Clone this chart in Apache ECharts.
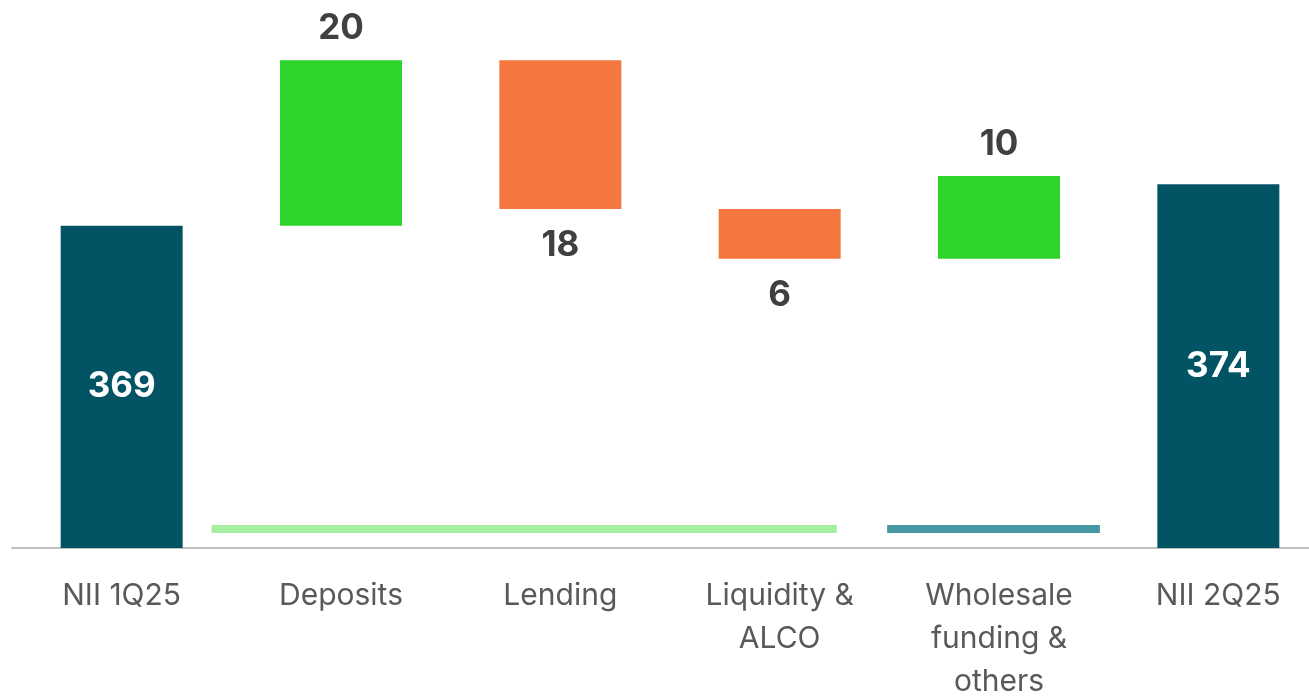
<!DOCTYPE html>
<html>
<head>
<meta charset="utf-8">
<script src="https://cdn.jsdelivr.net/npm/echarts@6/dist/echarts.min.js"></script>
<style>
  html, body { margin: 0; padding: 0; background: #fff; }
  #chart { width: 1309px; height: 697px; }
</style>
</head>
<body>
<div id="chart"></div>
<script>
// categories and movements (totals first and last)
var categories = ['NII 1Q25', 'Deposits', 'Lending', 'Liquidity &\nALCO', 'Wholesale\nfunding &\nothers', 'NII 2Q25'];
var changes = [369, 20, -18, -6, 10, 374];
var isTotal = [true, false, false, false, false, true];

// group underline markers: [from, to] in category units, and level on the value axis
var groupSpans = [[0.41, 3.26], [3.49, 4.46]];
var groupLevel = 332.3;
var groupColors = ['#a3ee9f', '#4598a2'];

var colTotal = '#025465';
var colUp = '#2dd42a';
var colDown = '#f4773f';

// build the waterfall: transparent base + visible piece
var baseData = [];
var barData = [];
var running = 0;
for (var i = 0; i < changes.length; i++) {
    var v = changes[i];
    if (isTotal[i]) {
        running = v;
        baseData.push(0);
        barData.push({
            value: v,
            itemStyle: {color: colTotal},
            label: {position: 'inside', color: '#fff', formatter: String(v)}
        });
    } else if (v >= 0) {
        baseData.push(running);
        running += v;
        barData.push({
            value: v,
            itemStyle: {color: colUp},
            label: {position: 'top', distance: 14, formatter: String(v)}
        });
    } else {
        running += v;
        baseData.push(running);
        barData.push({
            value: -v,
            itemStyle: {color: colDown},
            label: {position: 'bottom', distance: 19, formatter: String(-v)}
        });
    }
}

var lineSeries = [];
groupSpans.forEach(function (span, idx) {
    lineSeries.push({
        type: 'line',
        xAxisIndex: 1,
        yAxisIndex: 0,
        data: [[span[0], groupLevel], [span[1], groupLevel]],
        symbol: 'none',
        silent: true,
        z: 1,
        lineStyle: {color: groupColors[idx], width: 8, cap: 'butt'}
    });
});

var chart = echarts.init(document.getElementById('chart'));
chart.setOption({
    animation: false,
    textStyle: {fontFamily: 'Inter, "Open Sans", sans-serif'},
    grid: {left: 12, right: -19, top: 0, bottom: 149, containLabel: false, outerBoundsMode: 'none'},
    xAxis: [
        {
            type: 'category',
            data: categories,
            axisLine: {lineStyle: {color: '#bfbfbf', width: 2}},
            axisTick: {show: false},
            axisLabel: {
                interval: 0,
                color: '#595959',
                fontSize: 30,
                lineHeight: 43,
                margin: 26
            }
        },
        {
            type: 'value',
            min: -0.5,
            max: 5.5,
            show: false
        }
    ],
    yAxis: {
        type: 'value',
        min: 330,
        max: 396.3,
        show: false,
        splitLine: {show: false}
    },
    series: [
        {
            type: 'bar',
            stack: 'wf',
            data: baseData,
            barWidth: 122,
            itemStyle: {color: 'transparent'},
            silent: true
        },
        {
            type: 'bar',
            stack: 'wf',
            data: barData,
            barWidth: 122,
            z: 3,
            label: {
                show: true,
                fontSize: 35,
                fontWeight: 'bold',
                color: '#404040'
            }
        }
    ].concat(lineSeries)
});
</script>
</body>
</html>
